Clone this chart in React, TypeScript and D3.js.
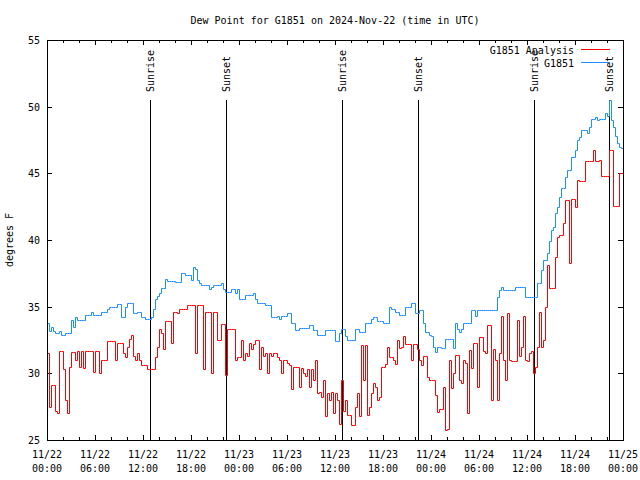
import React from "react";
import * as d3 from "d3";

// 15-minute samples starting 2024-11-22 00:00 UTC
const analysisValues: number[] = [
  31.5, 27.5, 29.1, 29.1, 27.2, 27.0, 31.7, 31.7, 30.3, 28.0, 27.0, 30.5,
  31.6, 31.6, 31.0, 31.7, 30.5, 31.7, 30.4, 31.7, 31.7, 31.7, 31.7, 30.1,
  31.7, 31.7, 30.0, 31.0, 31.0, 31.0, 32.4, 32.4, 32.4, 32.4, 31.0, 32.3,
  32.3, 32.3, 31.5, 31.2, 32.0, 32.6, 32.9, 31.3, 31.0, 31.5, 31.0, 30.6,
  30.6, 30.6, 30.3, 30.3, 30.3, 30.3, 31.2, 32.0, 33.3, 33.0, 31.8, 33.9,
  33.9, 33.9, 32.3, 34.6, 34.6, 34.5, 34.8, 34.8, 34.8, 34.8, 35.1, 35.1,
  35.1, 35.1, 31.5, 35.1, 35.1, 35.1, 30.3, 34.6, 34.6, 34.6, 30.0, 34.6,
  34.6, 32.5, 32.5, 33.7, 33.7, 29.9, 33.3, 33.3, 33.3, 33.3, 31.0, 31.2,
  31.2, 32.5, 31.0, 31.5, 31.3, 32.3, 31.8, 32.2, 32.5, 32.5, 30.3, 32.0,
  31.3, 31.5, 30.0, 31.5, 31.3, 31.5, 31.5, 31.2, 31.0, 30.0, 31.0, 31.0,
  30.8, 30.6, 28.8, 30.5, 30.5, 30.5, 29.0, 30.4, 30.0, 29.8, 30.3, 29.0,
  30.3, 29.5, 31.0, 28.5, 28.6, 28.2, 29.5, 26.8, 28.5, 28.0, 28.6, 27.0,
  28.5, 28.0, 26.2, 29.5, 27.2, 28.0, 26.9, 26.9, 26.1, 26.1, 27.5, 28.5,
  26.8, 32.1, 29.5, 32.1, 26.9, 27.5, 28.5, 29.3, 29.0, 28.0, 28.2, 30.5,
  30.5, 30.7, 32.0, 31.2, 31.2, 31.0, 30.7, 32.5, 31.9, 32.0, 32.8, 32.2,
  32.2, 32.2, 31.0, 32.2, 32.2, 31.8, 31.0, 30.6, 31.3, 31.3, 29.75, 29.5,
  29.5, 29.5, 28.4, 27.1, 27.3, 27.3, 29.0, 25.75, 25.8, 31.0, 28.9, 30.0,
  31.4, 31.4, 29.5, 29.3, 31.0, 30.8, 27.0, 31.75, 30.4, 32.3, 32.3, 29.0,
  32.75, 32.75, 31.7, 31.5, 33.6, 33.6, 28.0, 31.8, 31.0, 28.0, 31.5, 34.3,
  31.0, 29.5, 34.5, 31.0, 30.9, 30.9, 30.9, 34.0, 31.3, 32.0, 34.3, 31.0,
  30.9, 31.5, 31.7, 30.0, 30.5, 32.0, 34.6, 32.0, 32.5, 35.0, 38.1, 36.4,
  36.4, 36.4, 38.75, 40.25, 40.4, 40.4, 41.25, 43.0, 43.0, 38.3, 43.1, 43.1,
  42.5, 44.5, 44.4, 44.4, 44.4, 45.9, 45.9, 45.9, 45.9, 46.75, 45.9, 45.9,
  46.0, 44.8, 44.8, 44.8, 44.8, 46.75, 46.75, 42.55, 42.55, 42.55, 45.0, 45.0,
  47.0,
];

const observedValues: number[] = [
  33.8, 33.2, 33.5, 33.2, 33.0, 33.0, 33.2, 32.9, 32.9, 33.0, 33.0, 33.0,
  34.0, 33.5, 34.25, 34.0, 34.0, 34.0, 34.0, 34.4, 34.4, 34.4, 34.6, 34.4,
  34.4, 34.4, 34.4, 34.6, 34.6, 34.6, 34.85, 35.0, 35.0, 35.0, 35.0, 35.2,
  35.2, 34.2, 34.2, 35.0, 35.3, 35.3, 35.3, 34.5, 34.5, 34.6, 34.6, 34.2,
  34.2, 34.05, 34.05, 34.05, 34.2, 34.8, 35.6, 35.8, 36.0, 36.4, 36.4, 37.1,
  36.9, 36.9, 36.9, 36.9, 36.85, 36.85, 36.85, 37.5, 37.5, 37.4, 37.4, 37.4,
  37.0, 38.0, 37.8, 37.0, 36.8, 36.6, 36.6, 36.6, 36.6, 36.3, 36.5, 36.6,
  36.6, 36.6, 36.6, 36.8, 36.3, 36.1, 36.1, 36.1, 36.3, 36.3, 36.0, 36.3,
  35.6, 35.6, 35.6, 35.9, 35.9, 35.9, 35.9, 36.0, 35.6, 35.25, 35.25, 35.25,
  35.25, 35.1, 35.1, 35.1, 34.25, 34.25, 34.25, 34.3, 34.1, 34.3, 34.3, 34.3,
  34.5, 34.5, 33.75, 33.75, 33.25, 33.25, 33.4, 33.4, 33.4, 33.4, 33.4, 33.6,
  33.6, 33.25, 33.25, 32.9, 32.9, 32.9, 32.9, 33.25, 33.25, 33.25, 33.25, 33.25,
  32.4, 32.4, 33.0, 33.3, 33.3, 32.8, 32.5, 32.5, 32.5, 32.5, 33.3, 33.3,
  33.1, 33.1, 33.1, 33.75, 33.75, 33.75, 34.1, 34.25, 34.25, 33.9, 33.9, 33.9,
  33.75, 33.75, 33.75, 35.0, 34.8, 34.8, 34.6, 34.6, 34.4, 34.4, 34.4, 35.0,
  35.0, 35.0, 35.25, 35.25, 34.5, 34.5, 34.75, 34.75, 33.8, 33.1, 33.1, 32.9,
  32.8, 32.0, 31.6, 32.0, 32.0, 31.9, 31.9, 32.6, 32.6, 32.6, 32.6, 31.9,
  33.75, 33.3, 33.1, 33.3, 33.75, 33.75, 33.75, 33.75, 34.75, 34.75, 34.3, 34.75,
  34.75, 34.75, 34.75, 34.75, 34.75, 34.75, 34.75, 34.75, 34.75, 35.75, 36.25, 36.45,
  36.25, 36.25, 36.25, 36.25, 36.25, 36.25, 36.45, 36.45, 36.45, 36.45, 36.45, 35.75,
  35.75, 35.75, 35.75, 35.75, 35.75, 36.75, 36.75, 37.75, 38.5, 38.5, 39.0, 39.9,
  40.75, 41.0, 42.0, 42.5, 43.25, 43.9, 43.9, 44.75, 45.25, 45.25, 46.25, 46.25,
  46.75, 47.5, 47.75, 48.25, 48.25, 48.25, 48.0, 48.5, 49.1, 49.1, 49.25, 49.0,
  49.1, 49.1, 49.1, 49.5, 49.3, 50.5, 49.0, 48.5, 47.8, 47.3, 47.0, 46.9,
  47.0,
];

const sunriseTimes: string[] = [
  "2024-11-22T12:54:00Z",
  "2024-11-23T12:55:00Z",
  "2024-11-24T12:50:00Z",
];
const sunsetTimes: string[] = [
  "2024-11-22T22:22:00Z",
  "2024-11-23T22:26:00Z",
  "2024-11-24T22:17:00Z",
];

const yTickValues: number[] = [25, 30, 35, 40, 45, 50, 55];
const seriesNames: string[] = ["G1851 Analysis", "G1851"];
const seriesColors: string[] = ["#ff0000", "#1e8cff"];

const START = Date.UTC(2024, 10, 22, 0, 0);
const END = Date.UTC(2024, 10, 25, 0, 0);
const STEP_MS = 15 * 60 * 1000;

const W = 640;
const H = 480;
const L = 47;
const R = 623;
const T = 40;
const B = 440;
const FONT = "'DejaVu Sans Mono', 'Liberation Mono', monospace";

const px = (v: number) => Math.round(v) + 0.5;

export default function App() {
  const x = d3.scaleUtc().domain([new Date(START), new Date(END)]).range([L, R]);
  const y = d3.scaleLinear().domain([25, 55]).range([B, T]);

  const timeAt = (i: number) => new Date(START + i * STEP_MS);
  const line = d3
    .line<number>()
    .x((_, i) => px(x(timeAt(i))))
    .y((d) => px(y(d)))
    .curve(d3.curveStepAfter);

  const minorTicks = d3.utcHour.every(2)!.range(new Date(START), new Date(END + 1));
  const majorTicks = d3.utcHour.every(6)!.range(new Date(START), new Date(END + 1));
  const fmtDate = d3.utcFormat("%m/%d");
  const fmtTime = d3.utcFormat("%H:%M");

  const events = [
    ...sunriseTimes.map((t) => ({ t: new Date(t), label: "Sunrise" })),
    ...sunsetTimes.map((t) => ({ t: new Date(t), label: "Sunset" })),
  ];

  const series = [analysisValues, observedValues];

  return (
    <svg
      width={W}
      height={H}
      style={{ position: "absolute", left: 0, top: 0, background: "#fff" }}
      fontFamily={FONT}
      fontSize={10}
    >
      <rect x={0} y={0} width={W} height={H} fill="#fff" />
      <text x={(L + R) / 2} y={24} textAnchor="middle" fill="#000">
        Dew Point for G1851 on 2024-Nov-22 (time in UTC)
      </text>
      <text transform={`translate(13,240) rotate(-90)`} textAnchor="middle" fill="#000">
        degrees F
      </text>

      {/* sunrise / sunset markers */}
      {events.map((e, k) => {
        const ex = px(x(e.t));
        return (
          <g key={"ev" + k}>
            <line x1={ex} x2={ex} y1={100} y2={B} stroke="#000" strokeWidth={1} />
            <text transform={`translate(${ex + 3.5},92) rotate(-90)`} textAnchor="start" fill="#000">
              {e.label}
            </text>
          </g>
        );
      })}

      {/* ticks */}
      <g stroke="#000" strokeWidth={1}>
        {minorTicks.map((t, k) => {
          const tx = px(x(t));
          const major = t.getUTCHours() % 6 === 0;
          const len = major ? 5 : 3;
          return (
            <g key={"xt" + k}>
              <line x1={tx} x2={tx} y1={B} y2={B - len} />
              <line x1={tx} x2={tx} y1={T} y2={T + len} />
            </g>
          );
        })}
        {yTickValues.map((v, k) => {
          const ty = px(y(v));
          return (
            <g key={"yt" + k}>
              <line x1={L} x2={L + 5} y1={ty} y2={ty} />
              <line x1={R} x2={R - 5} y1={ty} y2={ty} />
            </g>
          );
        })}
      </g>

      {/* tick labels */}
      {yTickValues.map((v, k) => (
        <text key={"yl" + k} x={40} y={y(v) + 4} textAnchor="end" fill="#000">
          {v}
        </text>
      ))}
      {majorTicks.map((t, k) => (
        <g key={"xl" + k}>
          <text x={x(t)} y={458} textAnchor="middle" fill="#000">
            {fmtDate(t)}
          </text>
          <text x={x(t)} y={472} textAnchor="middle" fill="#000">
            {fmtTime(t)}
          </text>
        </g>
      ))}

      {/* data */}
      {series.map((vals, k) => (
        <path
          key={"s" + k}
          d={line(vals) || ""}
          fill="none"
          stroke={seriesColors[k]}
          strokeWidth={1}
          strokeLinejoin="miter"
          strokeLinecap="square"
        />
      ))}

      {/* legend */}
      {seriesNames.map((name, k) => (
        <g key={"lg" + k}>
          <text x={574} y={54 + k * 13} textAnchor="end" fill="#000">
            {name}
          </text>
          <line
            x1={581}
            x2={610}
            y1={49.5 + k * 13}
            y2={49.5 + k * 13}
            stroke={seriesColors[k]}
            strokeWidth={1}
          />
        </g>
      ))}

      {/* border */}
      <rect
        x={L + 0.5}
        y={T + 0.5}
        width={R - L}
        height={B - T}
        fill="none"
        stroke="#000"
        strokeWidth={1}
      />
    </svg>
  );
}
